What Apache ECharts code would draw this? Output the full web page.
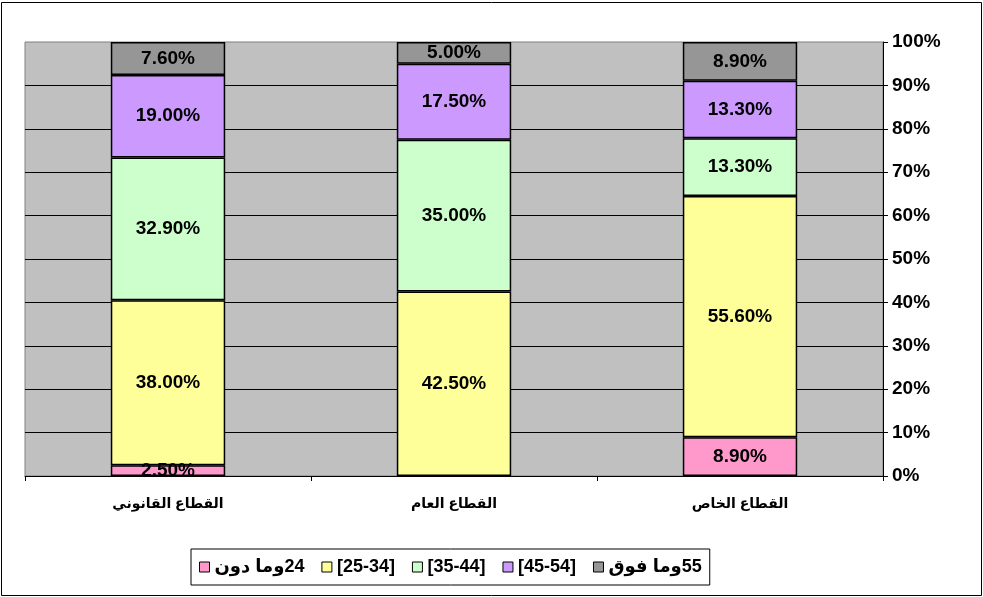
<!DOCTYPE html>
<html>
<head>
    <meta charset="utf-8">
    <title>age distribution by sector</title>
    <script src="https://cdn.jsdelivr.net/npm/echarts@6.0.0/dist/echarts.min.js"></script>
    <style type="text/css">
        html, body {
            margin: 0;
            padding: 0;
            background: #ffffff;
        }
        #main {
            width: 983px;
            height: 597px;
        }
    </style>
</head>
<body>
<div id="main"></div>
<script>
    // categories, left to right
    var sectors = ['القطاع القانوني', 'القطاع العام', 'القطاع الخاص'];
    // age groups, bottom of the stack first
    var ageGroups = ['وما دون\u200E24', '[25-34]', '[35-44]', '[45-54]', 'وما فوق\u200E55'];
    var ageColors = ['#FF99CC', '#FFFF99', '#CCFFCC', '#CC99FF', '#969696'];

    // percentages per age group, one value per sector
    var age24 = [2.5, 0, 8.9];
    var age25to34 = [38.0, 42.5, 55.6];
    var age35to44 = [32.9, 35.0, 13.3];
    var age45to54 = [19.0, 17.5, 13.3];
    var age55 = [7.6, 5.0, 8.9];

    var yTicks = [0, 10, 20, 30, 40, 50, 60, 70, 80, 90, 100];

    var seriesValues = [age24, age25to34, age35to44, age45to54, age55];
    var fontFamily = 'Arial, "Liberation Sans", "DejaVu Sans", sans-serif';

    var series = [];
    for (var i = 0; i < seriesValues.length; i++) {
        series.push({
            name: ageGroups[i],
            type: 'bar',
            stack: 'total',
            barWidth: '40%',
            // empty segments are not drawn at all (no border line)
            data: seriesValues[i].map(function (v) {
                return v === 0 ? '-' : v;
            }),
            itemStyle: {
                color: ageColors[i],
                borderColor: '#000000',
                borderWidth: 1.5
            },
            label: {
                show: true,
                position: 'inside',
                color: '#000000',
                fontWeight: 'bold',
                fontSize: 19,
                fontFamily: fontFamily,
                formatter: function (p) {
                    if (!p.value) {
                        return '';
                    }
                    return p.value.toFixed(2) + '%';
                }
            }
        });
    }

    var chart = echarts.init(document.getElementById('main'), null, {renderer: 'canvas'});
    var option = {
        animation: false,
        backgroundColor: '#ffffff',
        textStyle: {
            fontFamily: fontFamily
        },
        graphic: [
            {
                type: 'rect',
                shape: {x: 1.5, y: 2.5, width: 980, height: 593},
                style: {fill: 'none', stroke: '#000000', lineWidth: 1},
                silent: true,
                z: -1
            }
        ],
        grid: {
            left: 25,
            right: 100,
            top: 42,
            bottom: 121,
            show: true,
            backgroundColor: '#C0C0C0',
            borderColor: '#808080',
            borderWidth: 1
        },
        legend: {
            left: 191,
            top: 549,
            data: ageGroups,
            icon: 'rect',
            itemWidth: 10,
            itemHeight: 10,
            itemGap: 17,
            padding: [9, 8],
            borderColor: '#000000',
            borderWidth: 1,
            itemStyle: {
                borderColor: '#000000',
                borderWidth: 1
            },
            textStyle: {
                color: '#000000',
                fontWeight: 'bold',
                fontSize: 18,
                fontFamily: fontFamily
            }
        },
        xAxis: {
            type: 'category',
            data: sectors,
            axisLine: {lineStyle: {color: '#000000', width: 1}},
            axisTick: {show: true, length: 5, lineStyle: {color: '#000000'}},
            axisLabel: {
                color: '#000000',
                fontWeight: 'bold',
                fontSize: 14,
                margin: 21,
                fontFamily: fontFamily
            }
        },
        yAxis: {
            type: 'value',
            position: 'right',
            min: yTicks[0],
            max: yTicks[yTicks.length - 1],
            interval: yTicks[1] - yTicks[0],
            axisLine: {show: true, lineStyle: {color: '#000000', width: 1}},
            axisTick: {show: true, length: 5, lineStyle: {color: '#000000'}},
            splitLine: {
                show: true,
                showMaxLine: false,
                lineStyle: {color: '#000000', width: 1}
            },
            axisLabel: {
                color: '#000000',
                fontWeight: 'bold',
                fontSize: 19,
                margin: 9,
                fontFamily: fontFamily,
                formatter: '{value}%'
            }
        },
        series: series
    };
    chart.setOption(option);
</script>
</body>
</html>
